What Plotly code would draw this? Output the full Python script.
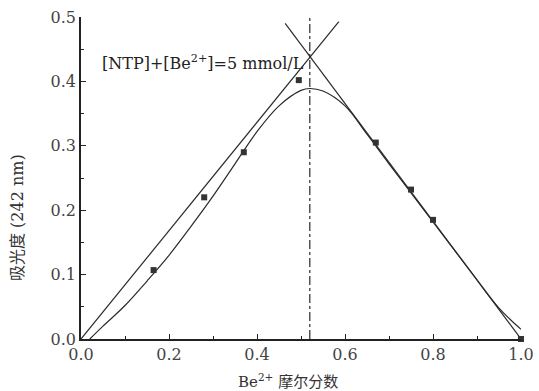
import plotly.graph_objects as go

# measured points
pt_x = [0.165, 0.28, 0.37, 0.495, 0.67, 0.75, 0.80, 1.0]
pt_y = [0.107, 0.220, 0.290, 0.402, 0.305, 0.232, 0.185, 0.0]

# fitted curve
cv_x = [0.02, 0.05, 0.10, 0.15, 0.20, 0.25, 0.30, 0.35, 0.40, 0.45, 0.50, 0.52, 0.55,
        0.60, 0.65, 0.70, 0.75, 0.80, 0.85, 0.90, 0.95, 1.0]
cv_y = [0.0, 0.02, 0.052, 0.09, 0.13, 0.175, 0.222, 0.272, 0.322, 0.362, 0.386, 0.389, 0.385,
        0.362, 0.318, 0.272, 0.227, 0.182, 0.137, 0.092, 0.048, 0.015]

# tangent lines
left_x = [0.0, 0.586]
left_y = [0.0, 0.493]
right_x = [0.464, 1.0]
right_y = [0.490, 0.0]

# vertical dash-dot line
vx = [0.52, 0.52]
vy = [0.0, 0.505]

x_title = "Be<sup>2+</sup> 摩尔分数"
y_title = "吸光度 (242 nm)"
note = "[NTP]+[Be<sup>2+</sup>]=5 mmol/L"

serif = "DejaVu Serif"
cjk = "DejaVu Serif, Noto Sans CJK SC"
col = "#2a2a2a"

fig = go.Figure()
fig.add_trace(go.Scatter(x=left_x, y=left_y, mode="lines", line=dict(color=col, width=1.2), cliponaxis=False))
fig.add_trace(go.Scatter(x=right_x, y=right_y, mode="lines", line=dict(color=col, width=1.2), cliponaxis=False))
fig.add_trace(go.Scatter(x=cv_x, y=cv_y, mode="lines", line=dict(color=col, width=1.2, shape="spline"), cliponaxis=False))
fig.add_trace(go.Scatter(x=vx, y=vy, mode="lines", line=dict(color=col, width=1.2, dash="dashdot"), cliponaxis=False))
fig.add_trace(go.Scatter(x=pt_x, y=pt_y, mode="markers",
                         marker=dict(symbol="square", size=6, color="#333333"), cliponaxis=False))

fig.add_annotation(x=0.043, y=0.43, xref="x", yref="y", xanchor="left", yanchor="middle",
                   text=note, showarrow=False,
                   font=dict(family=serif, size=16, color="#222"))
fig.add_annotation(x=0.47, y=-0.13, xref="paper", yref="paper", xanchor="center", yanchor="middle",
                   text=x_title, showarrow=False,
                   font=dict(family=cjk, size=15, color="#333"))
fig.add_annotation(x=-0.143, y=0.376, xref="paper", yref="paper", xanchor="center", yanchor="middle",
                   text=y_title, showarrow=False, textangle=-90,
                   font=dict(family=cjk, size=16, color="#333"))

fig.update_xaxes(range=[0, 1], tickmode="linear", tick0=0, dtick=0.2, tickformat=".1f",
                 showline=True, linecolor="#222", linewidth=1.5, ticks="inside", ticklen=5,
                 tickcolor="#222", tickwidth=1.2, showgrid=False, zeroline=False, automargin=False,
                 tickfont=dict(family=serif, size=16, color="#444"),
                 minor=dict(ticks="inside", ticklen=3, dtick=0.1, tickcolor="#222"))
fig.update_yaxes(range=[0, 0.5], tickmode="linear", tick0=0, dtick=0.1, tickformat=".1f",
                 showline=True, linecolor="#222", linewidth=1.5, ticks="inside", ticklen=5,
                 tickcolor="#222", tickwidth=1.2, showgrid=False, zeroline=False, automargin=False,
                 tickfont=dict(family=serif, size=16, color="#444"),
                 minor=dict(ticks="inside", ticklen=3, dtick=0.05, tickcolor="#222"))

fig.update_layout(width=539, height=391, margin=dict(l=81, r=18, t=17, b=52),
                  font=dict(family=serif, size=15, color="#333"),
                  plot_bgcolor="white", paper_bgcolor="white", showlegend=False)

fig.write_html("out.html")
